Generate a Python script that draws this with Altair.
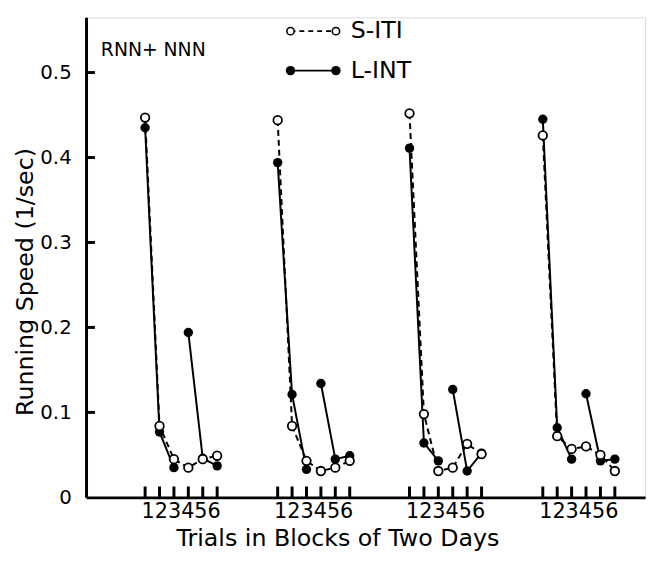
import altair as alt
import pandas as pd

# ---- data ----
trials = [1, 2, 3, 4, 5, 6]
blocks = [1, 2, 3, 4]
block_start = [0, 9.2, 18.35, 27.6]   # x offset of each block of two days
s_iti = [
    [0.447, 0.084, 0.045, 0.035, 0.045, 0.049],
    [0.444, 0.084, 0.043, 0.031, 0.035, 0.043],
    [0.452, 0.098, 0.031, 0.035, 0.063, 0.051],
    [0.426, 0.072, 0.057, 0.060, 0.050, 0.031],
]
l_int = [
    [0.435, 0.077, 0.035, 0.194, 0.046, 0.037],
    [0.394, 0.121, 0.033, 0.134, 0.045, 0.049],
    [0.411, 0.064, 0.043, 0.127, 0.031, 0.052],
    [0.445, 0.082, 0.045, 0.122, 0.043, 0.045],
]
y_ticks = [0.1, 0.2, 0.3, 0.4, 0.5]
x_tick_label = "123456"

rows = []
for bi, b in enumerate(blocks):
    for ti, t in enumerate(trials):
        x = block_start[bi] + t
        rows.append(dict(series="S-ITI", block=b, trial=t, x=x,
                         v=s_iti[bi][ti], seg=f"S{b}"))
        rows.append(dict(series="L-INT", block=b, trial=t, x=x,
                         v=l_int[bi][ti], seg=f"L{b}{'a' if t <= 3 else 'b'}"))
df = pd.DataFrame(rows)
ticks_df = df[df.series == "S-ITI"][["x"]]
yt_df = pd.DataFrame({"v": y_ticks})
lab_df = pd.DataFrame({"x": [s + 3.5 for s in block_start],
                       "txt": [x_tick_label] * len(blocks)})

W, H = 566, 486
FONT = "DejaVu Sans"
xs = alt.Scale(domain=[-3.1, 35.7], nice=False, zero=False)
ys = alt.Scale(domain=[0, 0.565], nice=False)

base = alt.Chart(df)

y_axis = alt.Axis(values=[0, 0.1, 0.2, 0.3, 0.4, 0.5],
                  labelExpr="datum.value == 0 ? '0' : format(datum.value, '.1f')",
                  ticks=False, tickSize=0, labelPadding=15, labelFontSize=20,
                  labelFont=FONT, labelColor="black", domainColor="black",
                  domainWidth=3, grid=False, title=None)
x_axis = alt.Axis(labels=False, ticks=False, tickSize=0, domainColor="black",
                  domainWidth=3, grid=False, title=None)

l_line = base.transform_filter("datum.series == 'L-INT'").mark_line(
    color="black", strokeWidth=2).encode(
    x=alt.X("x:Q", scale=xs, axis=x_axis),
    y=alt.Y("v:Q", scale=ys, axis=y_axis),
    detail="seg:N")
s_line = base.transform_filter("datum.series == 'S-ITI'").mark_line(
    color="black", strokeWidth=2, strokeDash=[6, 4]).encode(
    x=alt.X("x:Q", scale=xs), y=alt.Y("v:Q", scale=ys), detail="seg:N")
l_pts = base.transform_filter("datum.series == 'L-INT'").mark_point(
    shape="circle", filled=True, color="black", size=90, opacity=1).encode(
    x=alt.X("x:Q", scale=xs), y=alt.Y("v:Q", scale=ys))
s_pts = base.transform_filter("datum.series == 'S-ITI'").mark_point(
    shape="circle", filled=True, fill="white", stroke="black",
    strokeWidth=1.8, size=75, opacity=1).encode(
    x=alt.X("x:Q", scale=xs), y=alt.Y("v:Q", scale=ys))

x_ticks = alt.Chart(ticks_df).mark_rule(color="black", strokeWidth=3).encode(
    x=alt.X("x:Q", scale=xs), y=alt.value(H - 11), y2=alt.value(H))
y_tk = alt.Chart(yt_df).mark_rule(color="black", strokeWidth=3).encode(
    y=alt.Y("v:Q", scale=ys), x=alt.value(0), x2=alt.value(9))
x_labs = alt.Chart(lab_df).mark_text(font=FONT, fontSize=21, baseline="middle",
                                     color="black").encode(
    x=alt.X("x:Q", scale=xs), y=alt.value(H + 15), text="txt:N")

txt = lambda s, x, y, **kw: alt.Chart(pd.DataFrame({"t": [s]})).mark_text(
    font=FONT, color="black", **kw).encode(x=alt.value(x), y=alt.value(y), text="t:N")

x_title = txt("Trials in Blocks of Two Days", 255, H + 42, fontSize=24,
              align="center", baseline="middle")
y_title = txt("Running Speed (1/sec)", -61, 268, fontSize=24, angle=270,
              align="center", baseline="middle")
panel = txt("RNN+ NNN", 15, 33, fontSize=19, align="left", baseline="middle")

# legend
leg_s_line = alt.Chart(pd.DataFrame({"a": [0]})).mark_rule(
    color="black", strokeWidth=1.6, strokeDash=[5, 4]).encode(
    x=alt.value(207), x2=alt.value(253), y=alt.value(14))
leg_l_line = alt.Chart(pd.DataFrame({"a": [0]})).mark_rule(
    color="black", strokeWidth=1.8).encode(
    x=alt.value(207), x2=alt.value(253), y=alt.value(54))
leg_s_pts = alt.Chart(pd.DataFrame({"p": [207, 253]})).mark_point(
    shape="circle", filled=True, fill="white", stroke="black", strokeWidth=1.6,
    size=55, opacity=1).encode(x=alt.X("p:Q", scale=None), y=alt.value(14))
leg_l_pts = alt.Chart(pd.DataFrame({"p": [207, 253]})).mark_point(
    shape="circle", filled=True, color="black", size=90, opacity=1).encode(
    x=alt.X("p:Q", scale=None), y=alt.value(54))
leg_s_txt = txt("S-ITI", 268, 14, fontSize=24, align="left", baseline="middle")
leg_l_txt = txt("L-INT", 268, 54, fontSize=24, align="left", baseline="middle")

chart = alt.layer(
    l_line, s_line, l_pts, s_pts, x_ticks, y_tk, x_labs, x_title, y_title, panel,
    leg_s_line, leg_l_line, leg_s_pts, leg_l_pts, leg_s_txt, leg_l_txt
).properties(
    width=W, height=H, autosize=alt.AutoSizeParams(type="none"),
    padding={"left": 79, "top": 6, "right": 8, "bottom": 62}
).configure_view(stroke=None).configure(background="white")

chart.save("out.html", embed_options={"renderer": "svg", "actions": False})
